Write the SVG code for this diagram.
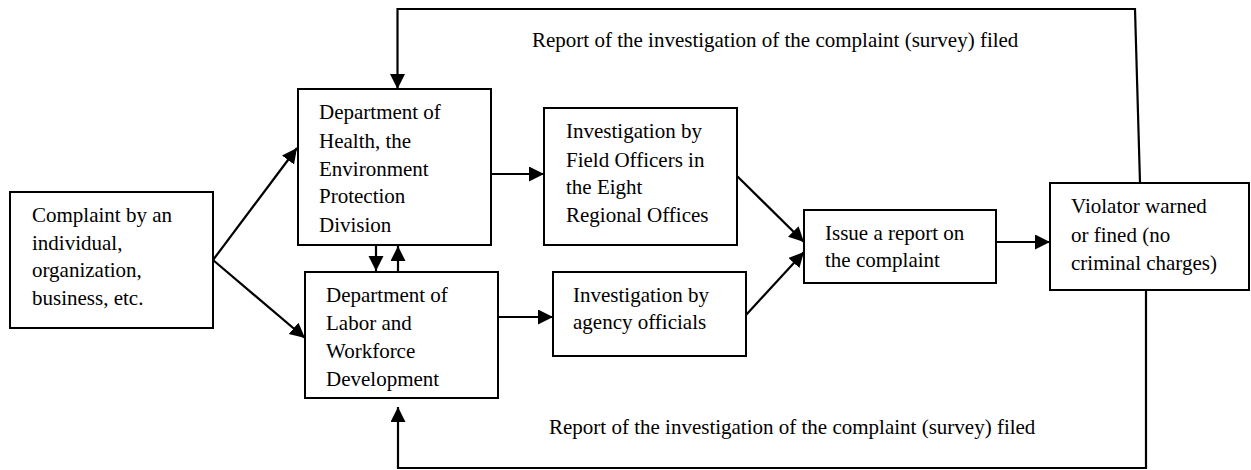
<svg xmlns="http://www.w3.org/2000/svg" width="1251" height="470" viewBox="0 0 1251 470">
<style>
.box{fill:#fff;stroke:#000;stroke-width:2}
.t{font-family:"Liberation Serif","Times New Roman",serif;font-size:21px;fill:#000}
.c{fill:none;stroke:#000;stroke-width:2.2}
</style>
<defs>
<marker id="ah" markerUnits="userSpaceOnUse" markerWidth="16" markerHeight="16" refX="15" refY="7.5" orient="auto">
<path d="M0,0 L15,7.5 L0,15 z" fill="#000"/>
</marker>
</defs>
<rect width="1251" height="470" fill="#fff"/>
<g id="connectors">
<line class="c" x1="213" y1="260" x2="297" y2="148" marker-end="url(#ah)"/>
<line class="c" x1="213" y1="260" x2="305" y2="338" marker-end="url(#ah)"/>
<line class="c" x1="491" y1="174" x2="544" y2="174" marker-end="url(#ah)"/>
<line class="c" x1="498" y1="317" x2="553" y2="317" marker-end="url(#ah)"/>
<line class="c" x1="376" y1="245" x2="376" y2="271" marker-end="url(#ah)"/>
<line class="c" x1="398" y1="272" x2="398" y2="246" marker-end="url(#ah)"/>
<line class="c" x1="737" y1="176" x2="804" y2="242" marker-end="url(#ah)"/>
<line class="c" x1="746" y1="315" x2="804" y2="252" marker-end="url(#ah)"/>
<line class="c" x1="996" y1="242" x2="1050" y2="242" marker-end="url(#ah)"/>
<polyline class="c" points="1140,183 1135,9 397.5,9 397.5,89" marker-end="url(#ah)"/>
<polyline class="c" points="1146,290 1146,468 398,468 398,407" marker-end="url(#ah)"/>
</g>
<g id="complaint">
<rect class="box" x="10" y="192" width="203" height="136"/>
<text class="t" x="32" y="222">Complaint by an</text>
<text class="t" x="32" y="250">individual,</text>
<text class="t" x="32" y="277">organization,</text>
<text class="t" x="32" y="305">business, etc.</text>
</g>
<g id="health">
<rect class="box" x="298" y="89" width="193" height="156"/>
<text class="t" x="319" y="119">Department of</text>
<text class="t" x="319" y="148">Health, the</text>
<text class="t" x="319" y="176">Environment</text>
<text class="t" x="319" y="203">Protection</text>
<text class="t" x="319" y="232">Division</text>
</g>
<g id="labor">
<rect class="box" x="305" y="272" width="193" height="126"/>
<text class="t" x="326" y="302">Department of</text>
<text class="t" x="326" y="330">Labor and</text>
<text class="t" x="326" y="358">Workforce</text>
<text class="t" x="326" y="386">Development</text>
</g>
<g id="field">
<rect class="box" x="544" y="108" width="193" height="137"/>
<text class="t" x="566" y="138">Investigation by</text>
<text class="t" x="566" y="167">Field Officers in</text>
<text class="t" x="566" y="194">the Eight</text>
<text class="t" x="566" y="222">Regional Offices</text>
</g>
<g id="agency">
<rect class="box" x="553" y="272" width="193" height="84"/>
<text class="t" x="573" y="302">Investigation by</text>
<text class="t" x="573" y="329">agency officials</text>
</g>
<g id="issue">
<rect class="box" x="804" y="210" width="192" height="73"/>
<text class="t" x="825" y="240">Issue a report on</text>
<text class="t" x="825" y="267">the complaint</text>
</g>
<g id="violator">
<rect class="box" x="1050" y="183" width="199" height="107"/>
<text class="t" x="1071" y="213">Violator warned</text>
<text class="t" x="1071" y="242">or fined (no</text>
<text class="t" x="1071" y="270">criminal charges)</text>
</g>
<g id="labels">
<text class="t" x="532" y="47">Report of the investigation of the complaint (survey) filed</text>
<text class="t" x="549" y="434">Report of the investigation of the complaint (survey) filed</text>
</g>
</svg>
